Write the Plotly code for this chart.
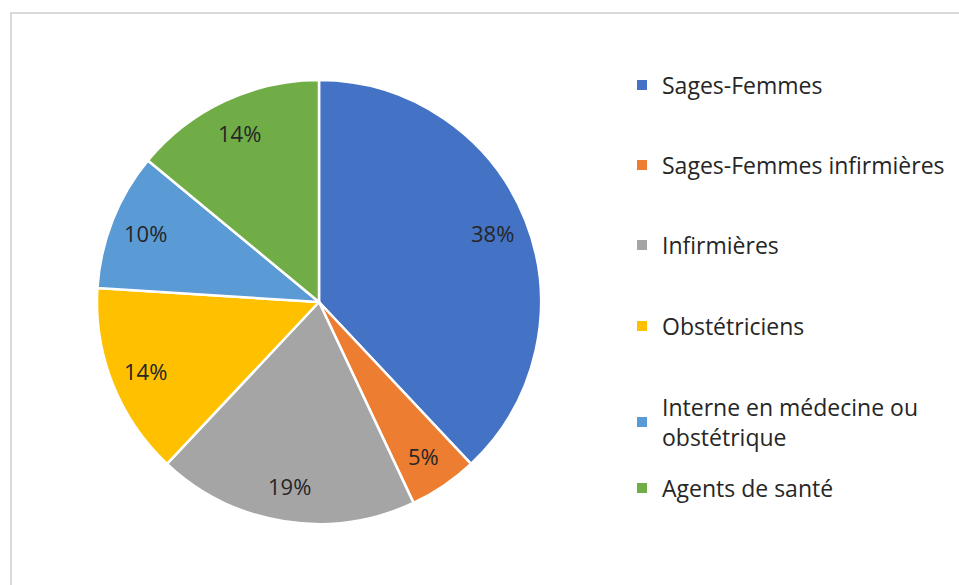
import math
import plotly.graph_objects as go

categories = ["Sages-Femmes", "Sages-Femmes infirmières", "Infirmières",
              "Obstétriciens", "Interne en médecine ou<br>obstétrique", "Agents de santé"]
values = [38, 5, 19, 14, 10, 14]
colors = ["#4472C4", "#ED7D31", "#A5A5A5", "#FFC000", "#5B9BD5", "#70AD47"]

W, H = 959, 585
FONT = "Open Sans"
TXT = "#262626"
CX, CY, R = 319, 302, 222          # pie centre / radius in pixels
LABEL_R = 0.84                      # data labels at this fraction of radius

fig = go.Figure()
fig.add_trace(go.Pie(
    labels=categories, values=values, sort=False, direction="clockwise", rotation=0,
    marker=dict(colors=colors, line=dict(color="white", width=2.5)),
    textinfo="none",
    domain=dict(x=[(CX - R) / W, (CX + R) / W], y=[1 - (CY + R) / H, 1 - (CY - R) / H]),
    showlegend=False, hoverinfo="label+percent",
))

# data labels derived from the values (mid-angle of each slice)
total = sum(values)
annotations = []
cum = 0
for v in values:
    mid = (cum + v / 2) / total * 2 * math.pi
    cum += v
    px = CX + LABEL_R * R * math.sin(mid)
    py = CY - LABEL_R * R * math.cos(mid)
    annotations.append(dict(
        x=px / W, y=1 - py / H, xref="paper", yref="paper",
        text=f"{round(v / total * 100)}%", showarrow=False,
        xanchor="center", yanchor="middle",
        font=dict(family=FONT, size=22, color=TXT),
    ))

# legend rows (centre of text block, pixels from top)
legend_rows = [85, 165, 245, 326, 422, 488]
for i, (cat, col) in enumerate(zip(categories, colors)):
    key = "legend" if i == 0 else f"legend{i+1}"
    fig.add_trace(go.Scatter(
        x=[None], y=[None], mode="markers", name=cat,
        marker=dict(symbol="square", size=10, color=col),
        legend=key, showlegend=True, hoverinfo="skip",
    ))
    fig.update_layout({key: dict(
        x=622 / W, xanchor="left", y=1 - legend_rows[i] / H, yanchor="middle",
        font=dict(family=FONT, size=23, color=TXT), bgcolor="rgba(0,0,0,0)",
        borderwidth=0, itemclick=False, itemdoubleclick=False,
    )})

fig.update_layout(
    width=W, height=H, margin=dict(l=0, r=0, t=0, b=0),
    paper_bgcolor="white", plot_bgcolor="white",
    xaxis=dict(visible=False), yaxis=dict(visible=False),
    annotations=annotations,
    shapes=[dict(type="rect", xref="paper", yref="paper",
                 x0=11 / W, x1=1.05, y0=-0.05, y1=1 - 13 / H,
                 line=dict(color="#D9D9D9", width=2), layer="below")],
)

fig.write_html("out.html", config={"displayModeBar": False},
               post_script="document.body.style.margin='0';")
